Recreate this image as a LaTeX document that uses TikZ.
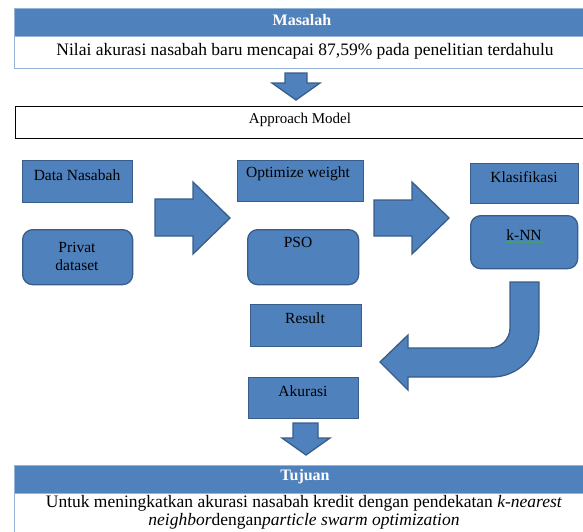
\documentclass[tikz,border=0pt]{standalone}
\usepackage{fontspec}
\setmainfont{Liberation Serif}[ItalicFont={Liberation Serif Italic}, BoldFont={Liberation Serif Bold}]
\usetikzlibrary{decorations.pathmorphing}
\definecolor{ofblue}{HTML}{4F81BD}
\definecolor{ofdark}{HTML}{385D8A}
\definecolor{oflight}{HTML}{95B3D7}
\definecolor{spellgreen}{HTML}{3CB043}
\tikzset{
  bluebox/.style={draw=ofdark, fill=ofblue, line width=1.3pt, inner sep=0pt},
  roundbox/.style={bluebox, rounded corners=10pt},
  blockarrow/.style={draw=ofdark, fill=ofblue, line width=1.3pt, line join=miter},
  txt/.style={font=\fontsize{15.5}{17}\selectfont, inner sep=0pt},
  bigtxt/.style={font=\fontsize{17.5}{18}\selectfont, inner sep=0pt},
  headtxt/.style={font=\fontsize{16}{18}\selectfont\bfseries, text=white, inner sep=0pt},
}
\begin{document}
\begin{tikzpicture}[x=1pt, y=-1pt]
\useasboundingbox (0,0) rectangle (583,531);
\clip (0,0) rectangle (583,531);
% Masalah
\fill[ofblue] (14,8) rectangle (598,36);
\draw[oflight, line width=1pt] (14,68) -- (14,8) -- (598,8);
\draw[oflight, line width=1pt] (14,36) -- (598,36);
\draw[oflight, line width=1pt] (14,68) -- (598,68);
\node[headtxt] (masalah) at (302,20) {Masalah};
\node[bigtxt] (nilai) at (305,51) {Nilai akurasi nasabah baru mencapai 87,59\% pada penelitian terdahulu};
% down arrow 1
\draw[blockarrow] (285,73) -- (307,73) -- (307,83) -- (320,83) -- (296,100) -- (272,83) -- (285,83) -- cycle;
% Approach model
\draw[black, line width=1pt] (15,106) rectangle (598,138);
\node[txt, font=\fontsize{15}{17}\selectfont] (approach) at (300,120) {Approach Model};
% column 1
\node[bluebox, anchor=north west, minimum width=110pt, minimum height=42pt] (data) at (22,160) {};
\node[txt] (dataT) at (77,175) {Data Nasabah};
\node[roundbox, anchor=north west, minimum width=110pt, minimum height=55pt] (privat) at (22,229) {};
\node[txt, align=center] (privatT) at (77,256) {Privat\\[1pt]dataset};
% arrow right 1
\draw[blockarrow] (155,199) -- (193,199) -- (193,182) -- (230,218) -- (193,254) -- (193,236) -- (155,236) -- cycle;
% column 2
\node[bluebox, anchor=north west, minimum width=126pt, minimum height=41pt] (opt) at (237,160) {};
\node[txt] (optT) at (298,174) {Optimize weight};
\node[roundbox, anchor=north west, minimum width=111pt, minimum height=55pt] (pso) at (247,229) {};
\node[txt] (psoT) at (298,242) {PSO};
\node[bluebox, anchor=north west, minimum width=111pt, minimum height=42pt] (result) at (250,304) {};
\node[txt] (resultT) at (305,318) {Result};
\node[bluebox, anchor=north west, minimum width=110pt, minimum height=41pt] (akurasi) at (248,377) {};
\node[txt] (akurasiT) at (303,391) {Akurasi};
% arrow right 2
\draw[blockarrow] (374,200) -- (412,200) -- (412,182) -- (449,218) -- (412,254) -- (412,236) -- (374,236) -- cycle;
% column 3
\node[bluebox, anchor=north west, minimum width=108pt, minimum height=40pt] (klas) at (470,163) {};
\node[txt] (klasT) at (524,177) {Klasifikasi};
\node[roundbox, anchor=north west, minimum width=107pt, minimum height=53pt] (knn) at (470,215) {};
\node[txt] (knnT) at (524,235) {k-NN};
\draw[spellgreen, line width=0.6pt, decorate, decoration={snake, amplitude=0.8pt, segment length=2.5pt}] (knnT.south west) ++(0,1.5) -- ++(37,0);
% U-turn arrow
\draw[blockarrow] (510,282) -- (539,282) -- (539,330) .. controls (539,356) and (518,377) .. (492,377) -- (408,377) -- (408,390) -- (380,362) -- (408,335) -- (408,348) -- (490,348) .. controls (501,348) and (510,339) .. (510,328) -- cycle;
% down arrow 2
\draw[blockarrow] (293,423) -- (318,423) -- (318,438) -- (330,438) -- (306,455) -- (282,438) -- (293,438) -- cycle;
% Tujuan
\fill[ofblue] (14,465) rectangle (598,493);
\draw[oflight, line width=1pt] (14,535) -- (14,465) -- (598,465);
\draw[oflight, line width=1pt] (14,493) -- (598,493);
\node[headtxt] (tujuan) at (305,477) {Tujuan};
\node[bigtxt, align=center] (tujuanT) at (304,512) {Untuk meningkatkan akurasi nasabah kredit dengan pendekatan \textit{k-nearest}\\\textit{neighbor}dengan\textit{particle swarm optimization}};
\end{tikzpicture}
\end{document}
